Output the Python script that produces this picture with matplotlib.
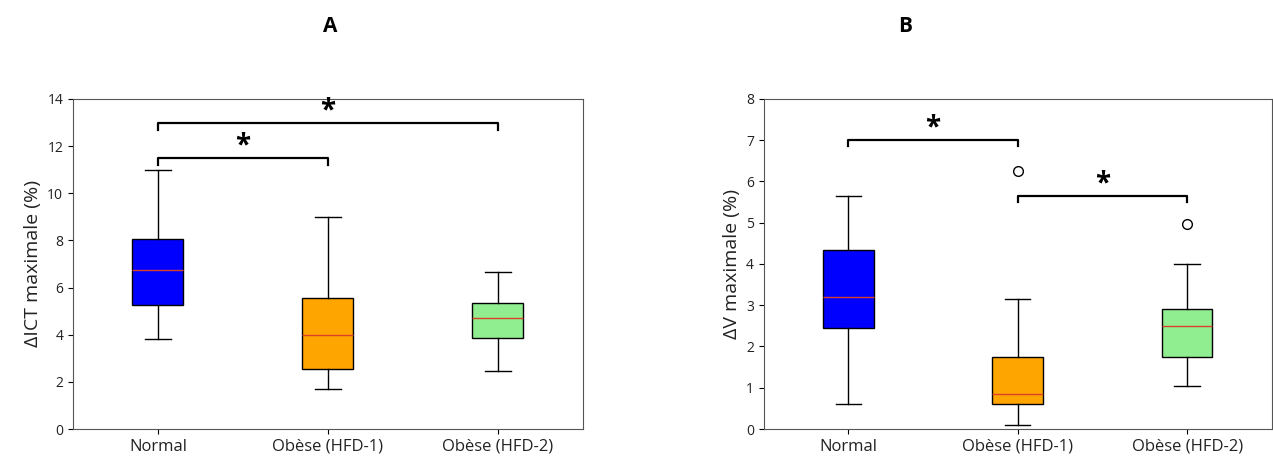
import matplotlib
matplotlib.use('Agg')
import matplotlib.pyplot as plt

plt.rcParams['font.family'] = ['Open Sans', 'DejaVu Sans']

groups = ['Normal', 'Obèse (HFD-1)', 'Obèse (HFD-2)']
colors = ['blue', 'orange', 'lightgreen']

# panel A : delta ICT (%)
ict_whislo = [3.8, 1.7, 2.45]
ict_q1 = [5.25, 2.55, 3.85]
ict_med = [6.75, 4.0, 4.7]
ict_q3 = [8.05, 5.55, 5.35]
ict_whishi = [11.0, 9.0, 6.65]
ict_fliers = [[], [], []]

# panel B : delta V (%)
v_whislo = [0.6, 0.1, 1.05]
v_q1 = [2.45, 0.6, 1.75]
v_med = [3.2, 0.85, 2.5]
v_q3 = [4.35, 1.75, 2.9]
v_whishi = [5.65, 3.15, 4.0]
v_fliers = [[], [6.25], [4.97]]

# significance brackets: (group i, group j, height)
ict_sig = [(0, 1, 11.5), (0, 2, 13.0)]
v_sig = [(0, 1, 7.0), (1, 2, 5.65)]


def make_stats(whislo, q1, med, q3, whishi, fliers):
    stats = []
    for i in range(len(med)):
        stats.append({'whislo': whislo[i], 'q1': q1[i], 'med': med[i],
                      'q3': q3[i], 'whishi': whishi[i], 'fliers': fliers[i]})
    return stats


def draw_panel(ax, stats, sig, ylim, yticks, ylabel, drop, star_off):
    bp = ax.bxp(stats, positions=[1, 2, 3], widths=0.3, patch_artist=True,
                showfliers=True,
                medianprops=dict(color='#d9412b', linewidth=1),
                whiskerprops=dict(color='black', linewidth=1),
                capprops=dict(color='black', linewidth=1),
                flierprops=dict(marker='o', markerfacecolor='white',
                                markeredgecolor='black', markersize=7))
    for patch, c in zip(bp['boxes'], colors):
        patch.set_facecolor(c)
        patch.set_edgecolor('black')
    for i, j, h in sig:
        ax.plot([i + 1, i + 1, j + 1, j + 1], [h - drop, h, h, h - drop],
                color='black', linewidth=1.6)
        ax.text((i + j) / 2 + 1, h + star_off, '*', ha='center', va='center',
                fontsize=20, fontweight='bold')
    ax.set_xlim(0.5, 3.5)
    ax.set_ylim(*ylim)
    ax.set_yticks(yticks)
    ax.set_xticks([1, 2, 3])
    ax.set_xticklabels(groups, fontsize=12, color='#222222')
    ax.tick_params(axis='y', labelsize=10, labelcolor='#222222')
    ax.set_ylabel(ylabel, fontsize=14, color='#222222')
    for s in ax.spines.values():
        s.set_color('#555555')


fig = plt.figure(figsize=(12.73, 4.61), dpi=100)
ax1 = fig.add_axes([0.0573, 0.0694, 0.4006, 0.716])
ax2 = fig.add_axes([0.600, 0.0694, 0.399, 0.716])

draw_panel(ax1, make_stats(ict_whislo, ict_q1, ict_med, ict_q3, ict_whishi, ict_fliers),
           ict_sig, (0, 14), range(0, 15, 2), 'ΔICT maximale (%)', 0.3, 0.5)
draw_panel(ax2, make_stats(v_whislo, v_q1, v_med, v_q3, v_whishi, v_fliers),
           v_sig, (0, 8), range(0, 9), 'ΔV maximale (%)', 0.15, 0.3)

fig.text(330 / 1273, 1 - 27 / 461, 'A', ha='center', va='center',
         fontsize=15, fontweight='bold')
fig.text(905 / 1273, 1 - 27 / 461, 'B', ha='center', va='center',
         fontsize=15, fontweight='bold')

fig.savefig('out.png', dpi=100)
